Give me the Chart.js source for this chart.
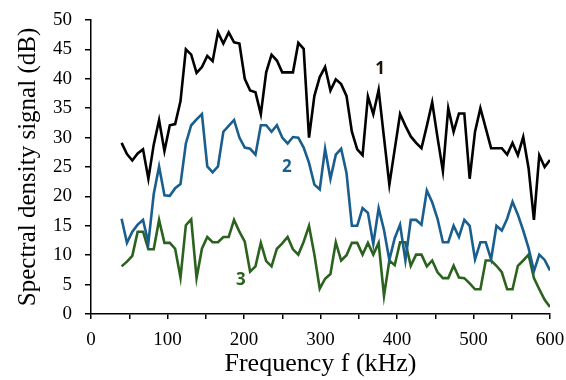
<!DOCTYPE html>
<html>
<head>
<meta charset="utf-8">
<script src="https://cdn.jsdelivr.net/npm/chart.js@4/dist/chart.umd.min.js"></script>
<style>
  html, body { margin: 0; padding: 0; background: #ffffff; }
  #wrap { width: 566px; height: 380px; }
</style>
</head>
<body>
<div id="wrap"><canvas id="c" width="566" height="380"></canvas></div>
<script>
// Frequency (kHz)
const frequencies = [40,47,54,61,68,75,82,89,96,103,110,117,124,131,138,145,152,159,166,173,
  180,187,194,201,208,215,222,229,236,243,250,257,264,271,278,285,292,299,306,313,
  320,327,334,341,348,355,362,369,376,383,390,397,404,411,418,425,432,439,446,453,
  460,467,474,481,488,495,502,509,516,523,530,537,544,551,558,565,572,579,586,593,600];

// Series 1 (black)
const series1 = [29.1,27.2,26.1,27.3,28.0,23.0,28.8,33.0,27.7,32.1,32.3,36.2,45.0,44.1,41.0,42.0,43.9,43.0,47.9,46.0,
  47.9,46.2,46.0,40.0,38.0,37.7,34.0,41.1,44.1,43.1,41.1,41.1,41.1,46.1,45.1,30.0,37.1,40.3,42.0,38.0,
  39.9,39.1,37.1,31.0,28.0,27.0,37.0,34.0,38.1,30.0,22.0,28.0,34.0,32.0,30.2,29.1,28.2,32.0,36.0,30.0,
  24.3,35.0,31.0,34.1,34.1,23.0,31.0,35.0,31.6,28.2,28.2,28.2,27.1,29.1,27.0,30.1,24.8,16.0,27.0,25.0,26.2];

// Series 2 (blue)
const series2 = [16.2,12.1,14.0,15.2,16.0,12.1,20.4,25.1,20.2,20.1,21.4,22.1,29.0,32.1,33.1,34.0,25.1,24.1,25.1,31.0,
  32.0,33.0,30.0,28.3,28.1,27.1,32.1,32.1,31.0,32.1,30.0,29.0,30.1,30.0,28.3,25.7,22.0,21.2,28.1,23.0,
  27.1,28.1,24.0,15.0,15.0,18.0,17.2,11.9,18.0,14.3,9.2,12.9,15.2,9.1,16.0,16.0,15.2,21.0,19.0,16.2,
  12.2,12.2,15.0,13.1,16.0,15.0,9.3,12.2,12.2,9.3,15.0,14.2,16.2,19.1,16.9,14.2,11.2,7.3,10.1,9.2,7.4];

// Series 3 (green)
const series3 = [8.1,8.9,9.9,14.0,14.0,11.0,11.0,16.0,12.1,12.1,11.1,6.2,15.1,16.1,6.1,11.1,13.1,12.2,12.2,13.1,
  13.1,16.0,14.0,12.3,7.2,8.1,12.1,9.0,8.1,11.1,12.0,13.1,11.0,10.1,12.3,15.0,10.1,4.3,6.0,6.8,
  12.2,9.1,10.0,12.1,12.1,10.1,12.1,10.1,12.1,3.1,9.1,8.3,12.2,12.2,8.2,10.1,10.1,8.1,9.1,7.1,
  6.1,6.1,8.2,6.2,6.1,5.2,4.2,4.2,9.1,9.1,8.2,7.1,4.2,4.2,8.2,9.1,10.1,6.1,4.2,2.4,1.2];

// Series labels placed at data coordinates
const seriesLabels = ['1', '2', '3'];
const labelFreq = [378, 256, 196];
const labelLevel = [41.6, 25.0, 5.8];

const colors = ['#000000', '#1a5e8e', '#2a621e'];
const labelColors = ['#1a1208', '#1a5e8e', '#2a621e'];

function pts(vals) { return frequencies.map((f, i) => ({ x: f, y: vals[i] })); }

const labelPlugin = {
  id: 'seriesLabels',
  afterDatasetsDraw(chart) {
    const ctx = chart.ctx;
    const xs = chart.scales.x, ys = chart.scales.y;
    ctx.save();
    ctx.font = 'bold 17px "Open Sans", "Liberation Sans", sans-serif';
    ctx.textAlign = 'center';
    ctx.textBaseline = 'middle';
    seriesLabels.forEach((t, i) => {
      ctx.fillStyle = labelColors[i];
      ctx.fillText(t, xs.getPixelForValue(labelFreq[i]), ys.getPixelForValue(labelLevel[i]));
    });
    ctx.restore();
  }
};

const serif = '"Liberation Serif", "Times New Roman", serif';

new Chart(document.getElementById('c'), {
  type: 'line',
  data: {
    datasets: [
      { data: pts(series1), borderColor: colors[0], borderWidth: 2.6, pointRadius: 0, tension: 0, fill: false },
      { data: pts(series2), borderColor: colors[1], borderWidth: 2.6, pointRadius: 0, tension: 0, fill: false },
      { data: pts(series3), borderColor: colors[2], borderWidth: 2.6, pointRadius: 0, tension: 0, fill: false }
    ]
  },
  options: {
    responsive: false,
    animation: false,
    devicePixelRatio: 1,
    layout: { padding: { left: 0, top: 20, right: 16, bottom: 0 } },
    plugins: { legend: { display: false }, tooltip: { enabled: false } },
    scales: {
      x: {
        type: 'linear',
        min: 0, max: 600,
        afterFit(scale) { scale.height = 66; scale.paddingLeft = 0; scale.paddingRight = 0; },
        border: { display: true, color: '#000', width: 1.5 },
        grid: { display: true, drawOnChartArea: false, drawTicks: true, tickLength: 5, color: '#000', lineWidth: 1.5 },
        ticks: {
          stepSize: 50, color: '#000', padding: 10,
          font: { family: serif, size: 19 },
          maxRotation: 0, autoSkip: false,
          callback: (v) => (v % 100 === 0 ? String(v) : '')
        },
        title: { display: true, text: 'Frequency f (kHz)', color: '#000',
          font: { family: serif, size: 26, lineHeight: 1.2 }, padding: { top: 0, bottom: 0 } }
      },
      y: {
        min: 0, max: 50,
        afterFit(scale) { scale.width = 91; scale.paddingTop = 0; scale.paddingBottom = 0; },
        border: { display: true, color: '#000', width: 1.5 },
        grid: { display: true, drawOnChartArea: false, drawTicks: true, tickLength: 6, color: '#000', lineWidth: 1.5 },
        ticks: { stepSize: 5, color: '#000', padding: 13, font: { family: serif, size: 19 } },
        title: { display: true, text: 'Spectral density signal (dB)', color: '#000',
          font: { family: serif, size: 25, lineHeight: 1.2 }, padding: { top: 13, bottom: 0 } }
      }
    }
  },
  plugins: [labelPlugin]
});
</script>
</body>
</html>
